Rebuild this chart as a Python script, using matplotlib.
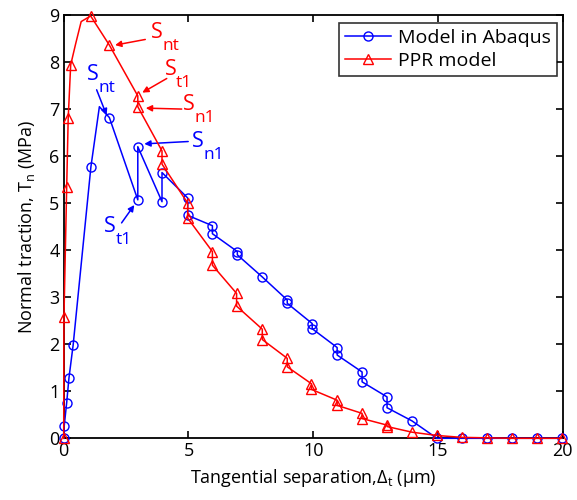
import numpy as np
import matplotlib
matplotlib.use('Agg')
import matplotlib.pyplot as plt

# Model in Abaqus (blue) - polyline vertices
abq_x = [0, 0.02, 0.12, 0.21, 0.38, 1.09, 1.43, 1.83, 2.97, 2.97, 3.94, 3.94,
         4.97, 4.97, 5.96, 5.96, 6.96, 6.96, 7.96, 8.96, 8.96, 9.96, 9.96,
         10.96, 10.96, 11.96, 11.96, 12.96, 12.96, 13.96, 14.96, 15.96,
         16.96, 17.96, 18.96, 19.96]
abq_y = [0, 0.26, 0.76, 1.28, 1.99, 5.77, 7.05, 6.82, 5.07, 6.20, 5.03, 5.65,
         5.11, 4.74, 4.52, 4.35, 3.97, 3.90, 3.43, 2.94, 2.87, 2.44, 2.33,
         1.93, 1.77, 1.41, 1.20, 0.88, 0.65, 0.37, 0.0, 0.0,
         0.0, 0.0, 0.0, 0.0]
abq_nomark = [6]  # peak vertex drawn without a marker

# PPR model (red)
ppr_x = [0, 0.01, 0.12, 0.18, 0.28, 0.48, 0.70, 1.08, 1.83, 2.97, 2.97, 3.94,
         3.94, 4.97, 4.97, 5.96, 5.96, 6.93, 6.93, 7.96, 7.96, 8.96, 8.96,
         9.93, 9.93, 10.96, 10.96, 11.96, 11.96, 12.96, 12.96, 13.96, 14.96,
         15.96, 16.96, 17.96, 18.96, 19.96]
ppr_y = [0, 2.57, 5.35, 6.80, 7.94, 8.39, 8.86, 8.98, 8.36, 7.28, 7.05, 6.11,
         5.83, 5.00, 4.68, 3.97, 3.68, 3.08, 2.81, 2.32, 2.10, 1.70, 1.52,
         1.16, 1.04, 0.81, 0.70, 0.53, 0.42, 0.28, 0.25, 0.13, 0.06,
         0.02, 0.01, 0.0, 0.0, 0.0]
ppr_nomark = [5, 6]

# annotations: subscript, "S" baseline position, arrow tail, arrow head
red_notes = [('nt', (3.50, 8.51), (3.27, 8.48), (2.06, 8.36)),
             ('t1', (4.06, 7.72), (4.13, 7.65), (3.15, 7.35)),
             ('n1', (4.78, 6.98), (4.73, 7.00), (3.29, 7.02))]
blue_notes = [('nt', (0.93, 7.62), (1.32, 7.41), (1.72, 6.87)),
              ('n1', (5.14, 6.19), (4.99, 6.31), (3.23, 6.26)),
              ('t1', (1.62, 4.39), (2.32, 4.58), (2.83, 4.96))]

plt.rcParams['font.family'] = ['Open Sans', 'DejaVu Sans']
plt.rcParams['mathtext.fontset'] = 'custom'
plt.rcParams['mathtext.rm'] = 'Open Sans'
plt.rcParams['mathtext.it'] = 'Open Sans:italic'
plt.rcParams['font.size'] = 13

fig = plt.figure(figsize=(5.77, 5.0), dpi=100)
ax = fig.add_axes([0.1104, 0.1234, 0.8648, 0.8466])

def marks(n, skip):
    return [i for i in range(n) if i not in skip]

ax.plot(abq_x, abq_y, '-o', color='blue', lw=1.1, ms=6.5, mfc='none',
        mew=1.0, markevery=marks(len(abq_x), abq_nomark),
        label='Model in Abaqus', clip_on=False, zorder=3)
ax.plot(ppr_x, ppr_y, '-^', color='red', lw=1.1, ms=7.5, mfc='none',
        mew=1.0, markevery=marks(len(ppr_x), ppr_nomark),
        label='PPR model', clip_on=False, zorder=4)

for notes, col in ((red_notes, 'red'), (blue_notes, 'blue')):
    for sub, sxy, tail, head in notes:
        ax.text(sxy[0], sxy[1], 'S', color=col, fontsize=15.5,
                ha='left', va='baseline')
        ax.annotate(sub, xy=sxy, xytext=(8.0, -8.6),
                    textcoords='offset points', color=col, fontsize=12.5,
                    ha='left', va='baseline')
        ax.annotate('', xy=head, xytext=tail,
                    arrowprops=dict(arrowstyle='-|>', color=col, lw=1.1,
                                    mutation_scale=9, shrinkA=0, shrinkB=0))

ax.set_xlim(0, 20)
ax.set_ylim(0, 9)
ax.set_xticks([0, 5, 10, 15, 20])
ax.set_yticks(range(10))
ax.tick_params(direction='in', top=True, right=True, length=5, width=1.2,
               labelsize=13, pad=3)
for s in ax.spines.values():
    s.set_linewidth(1.3)

ax.set_xlabel(r'Tangential separation,$\mathit{\Delta}_\mathregular{t}$ ($\mathregular{\mu}$m)',
              fontsize=13, labelpad=5)
ax.set_ylabel(r'Normal traction, T$_\mathregular{n}$ (MPa)', fontsize=13,
              labelpad=9)

leg = ax.legend(loc='upper right', bbox_to_anchor=(0.9886, 0.981),
                fontsize=14, frameon=True, fancybox=False,
                edgecolor='black', borderpad=0.3, labelspacing=0.25,
                handlelength=2.4, handletextpad=0.36, borderaxespad=0)
leg.get_frame().set_linewidth(1.2)

fig.savefig('out.png', dpi=100)
